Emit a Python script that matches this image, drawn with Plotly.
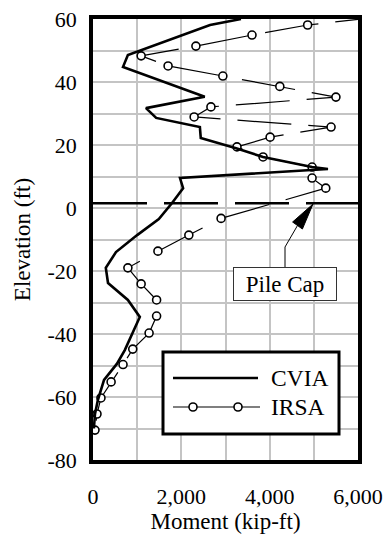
import plotly.graph_objects as go

# Bending moment envelopes along the pile (elevation in ft, moment in kip-ft)
cvia_elev = [60.0, 58.1, 48.6, 44.8, 35.3, 31.7, 28.6, 25.7, 22.2, 19.0, 16.2, 13.0,
             12.4, 9.5, 6.3, 1.6, -3.5, -8.6, -14.0, -19.0, -23.8, -29.2, -34.6,
             -39.7, -45.1, -49.5, -54.6, -61.0, -65.4, -70.0]
cvia_moment = [3350, 2650, 790, 680, 2530, 1200, 1430, 2420, 2440, 3240, 3850, 4960,
               5320, 1970, 2040, 1790, 1490, 1000, 520, 290, 340, 790, 1060,
               900, 720, 540, 250, 110, 45, 20]

irsa_elev = [61.0, 58.1, 54.9, 51.4, 48.3, 45.1, 41.9, 38.6, 35.2, 32.1, 28.9, 25.7,
             22.5, 19.4, 16.2, 13.0, 9.5, 6.3, -3.3, -8.6, -13.7, -19.0, -24.1,
             -29.2, -34.3, -39.7, -44.8, -49.7, -55.2, -60.3, -65.4, -70.5]
irsa_moment = [6700, 4860, 3600, 2330, 1090, 1700, 2940, 4230, 5500, 2670, 2290, 5390,
               4010, 3260, 3850, 4960, 4960, 5270, 2900, 2170, 1470, 790, 1090,
               1440, 1440, 1270, 900, 680, 410, 180, 90, 45]

pile_cap_elev = 1.5
x_range = [0, 6000]
y_range = [-80, 60]
x_ticks = [0, 2000, 4000, 6000]
x_ticklabels = ["0", "2,000", "4,000", "6,000"]
y_ticks = [-80, -60, -40, -20, 0, 20, 40, 60]
y_ticklabels = ["-80", "-60", "-40", "-20", "0", "20", "40", "60"]

FONT = "Liberation Serif, Times New Roman, serif"
GRID = "#c4c4c4"
DASH = "54px,17px"

# plot-area geometry in pixels
W, H = 387, 535
L, R, T, B = 93, 29, 19, 75
PW, PH = W - L - R, H - T - B


def px_x(px):
    return (px - L) / PW


def px_y(py):
    return (H - B - py) / PH


def dx(px):
    return x_range[0] + (px - L) / PW * (x_range[1] - x_range[0])


def dy(py):
    return y_range[1] - (py - T) / PH * (y_range[1] - y_range[0])


fig = go.Figure()

fig.add_trace(go.Scatter(
    x=x_range, y=[pile_cap_elev, pile_cap_elev], mode="lines",
    line=dict(color="black", width=2.5, dash=DASH), showlegend=False,
    hoverinfo="skip"))

fig.add_trace(go.Scatter(
    x=irsa_moment, y=irsa_elev, mode="lines+markers", name="IRSA",
    line=dict(color="black", width=1.2, dash=DASH),
    marker=dict(symbol="circle", size=8, color="white",
                line=dict(color="black", width=1.6)),
    showlegend=False))

fig.add_trace(go.Scatter(
    x=cvia_moment, y=cvia_elev, mode="lines", name="CVIA",
    line=dict(color="black", width=2.6), showlegend=False))

shapes = []

# leader from the label box up to the pile cap line
tip = (313, 204)
base = (297.5, 225.5)
c1, c2 = (302.4, 229.0), (292.6, 222.0)
shapes.append(dict(
    type="path", xref="x", yref="y",
    path=f"M{dx(285)},{dy(267)} L{dx(285)},{dy(247)} L{dx(base[0])},{dy(base[1])}",
    line=dict(color="black", width=1)))
shapes.append(dict(
    type="path", xref="x", yref="y",
    path=f"M{dx(tip[0])},{dy(tip[1])} L{dx(c1[0])},{dy(c1[1])} L{dx(c2[0])},{dy(c2[1])} Z",
    fillcolor="black", line=dict(color="black", width=1)))

# legend box and samples
shapes.append(dict(
    type="rect", xref="paper", yref="paper",
    x0=px_x(163), x1=px_x(339), y0=px_y(434), y1=px_y(352),
    fillcolor="white", line=dict(color="black", width=3)))
shapes.append(dict(
    type="line", xref="paper", yref="paper",
    x0=px_x(173), x1=px_x(258), y0=px_y(378), y1=px_y(378),
    line=dict(color="black", width=2.6)))
shapes.append(dict(
    type="line", xref="paper", yref="paper",
    x0=px_x(173), x1=px_x(260), y0=px_y(407), y1=px_y(407),
    line=dict(color="black", width=1.2)))
for cx in (193, 238):
    shapes.append(dict(
        type="circle", xref="paper", yref="paper",
        xsizemode="pixel", ysizemode="pixel",
        xanchor=px_x(cx), yanchor=px_y(407),
        x0=-4, x1=4, y0=-4, y1=4,
        fillcolor="white", line=dict(color="black", width=1.6)))

annotations = [
    dict(text="Pile Cap", xref="paper", yref="paper",
         x=px_x(285), y=px_y(284), xanchor="center", yanchor="middle",
         showarrow=False, width=102, height=32, bgcolor="white",
         bordercolor="#333333", borderwidth=1, borderpad=0,
         font=dict(family=FONT, size=23, color="black")),
    dict(text="CVIA", xref="paper", yref="paper",
         x=px_x(269), y=px_y(378), xanchor="left", yanchor="middle",
         showarrow=False, font=dict(family=FONT, size=23.5, color="black")),
    dict(text="IRSA", xref="paper", yref="paper",
         x=px_x(269), y=px_y(407), xanchor="left", yanchor="middle",
         showarrow=False, font=dict(family=FONT, size=23.5, color="black")),
]

fig.update_layout(
    template="none",
    width=W, height=H,
    margin=dict(l=L, r=R, t=T, b=B),
    font=dict(family=FONT, size=22, color="black"),
    paper_bgcolor="white", plot_bgcolor="white",
    showlegend=False,
    shapes=shapes, annotations=annotations,
)

fig.update_xaxes(
    range=x_range, tickmode="array", tickvals=x_ticks, ticktext=x_ticklabels,
    minor=dict(dtick=1000, tick0=0, showgrid=True, gridcolor=GRID, gridwidth=2),
    ticks="outside", ticklen=14, tickcolor="rgba(0,0,0,0)",
    title_text="Moment (kip-ft)", title_standoff=6,
)
fig.update_yaxes(
    range=y_range, tickmode="array", tickvals=y_ticks, ticktext=y_ticklabels,
    minor=dict(dtick=10, tick0=0, showgrid=True, gridcolor=GRID, gridwidth=2),
    ticks="outside", ticklen=8, tickcolor="rgba(0,0,0,0)",
    title_text="Elevation (ft)", title_standoff=11,
)
for update in (fig.update_xaxes, fig.update_yaxes):
    update(
        showgrid=True, gridcolor=GRID, gridwidth=2,
        showline=True, linecolor="black", linewidth=3.5, mirror=True,
        zeroline=False, automargin=False,
        tickfont=dict(family=FONT, size=22, color="black"),
        title_font=dict(family=FONT, size=23, color="black"),
    )

fig.write_html("out.html")
